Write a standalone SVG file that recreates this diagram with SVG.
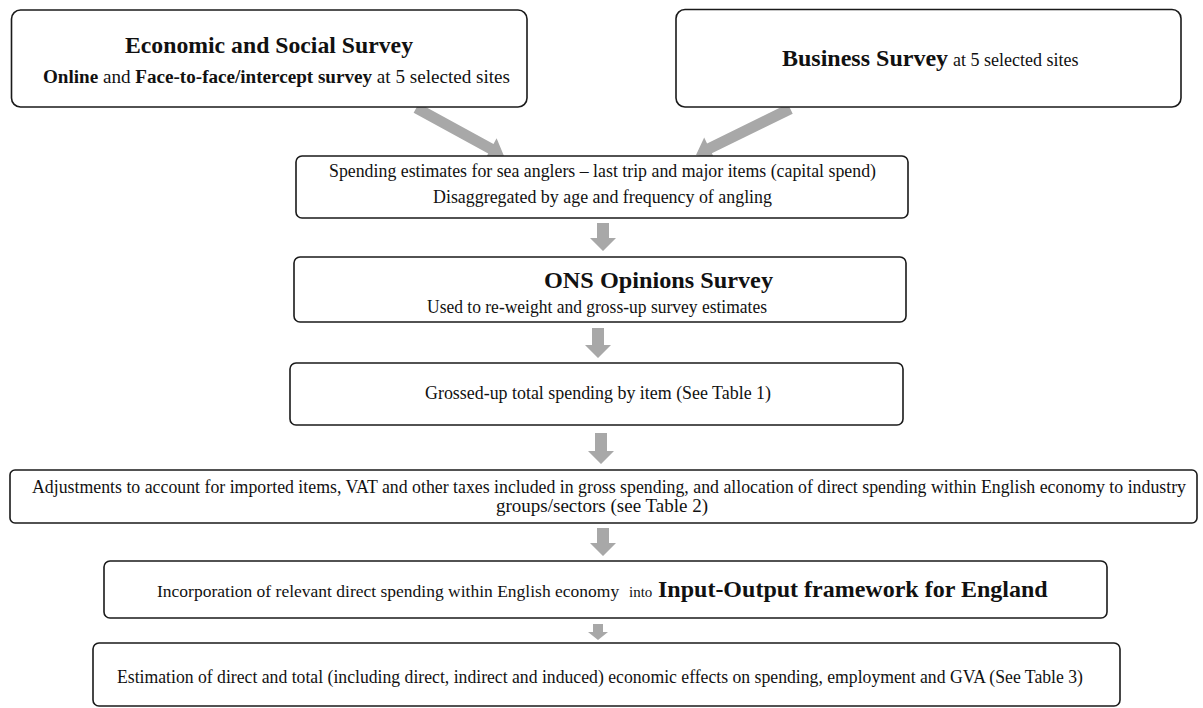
<svg xmlns="http://www.w3.org/2000/svg" width="1203" height="708" viewBox="0 0 1203 708">
<style>
.box{fill:#fff;stroke:#1a1a1a;stroke-width:1.6}
.arr{fill:#a8a8a8}
text{font-family:"Liberation Serif","Times New Roman",serif;fill:#111;font-size:18px}
.b{font-weight:bold}
.t{font-weight:bold;font-size:24px}
</style>
<rect width="1203" height="708" fill="#fff"/>
<g id="connectors">
<polygon class="arr" transform="translate(504,156) rotate(28.7)" points="-100,-5.5 -15,-5.5 -15,-12 0,0 -15,12 -15,5.5 -100,5.5"/>
<polygon class="arr" transform="translate(696,155) rotate(153.9)" points="-105,-5.5 -15,-5.5 -15,-12 0,0 -15,12 -15,5.5 -105,5.5"/>
<polygon class="arr" points="597,223 609,223 609,238 616,238 603,251 590,238 597,238"/>
<polygon class="arr" points="592,328 604,328 604,345 611,345 598,358 585,345 592,345"/>
<polygon class="arr" points="595,433 607,433 607,451 614,451 601,464 588,451 595,451"/>
<polygon class="arr" points="597,528 609,528 609,543 616,543 603,556 590,543 597,543"/>
<polygon class="arr" points="593,624 603,624 603,632 608,632 598,640 588,632 593,632"/>
</g>
<g id="economic-social-survey">
<rect class="box" x="11.5" y="10" width="515.5" height="97" rx="9"/>
<text class="t" x="125" y="53" textLength="288" lengthAdjust="spacingAndGlyphs">Economic and Social Survey</text>
<text x="43" y="83" textLength="467" lengthAdjust="spacingAndGlyphs"><tspan class="b">Online</tspan> and <tspan class="b">Face-to-face/intercept survey</tspan> at 5 selected sites</text>
</g>
<g id="business-survey">
<rect class="box" x="676" y="9.5" width="505" height="97.5" rx="9"/>
<text y="66"><tspan class="t" x="782">Business Survey</tspan><tspan x="953">at 5 selected sites</tspan></text>
</g>
<g id="spending-estimates">
<rect class="box" x="296" y="156" width="612" height="62" rx="6"/>
<text x="329" y="177" textLength="547" lengthAdjust="spacingAndGlyphs">Spending  estimates for sea anglers – last trip and major items (capital spend)</text>
<text x="433" y="203" textLength="339" lengthAdjust="spacingAndGlyphs">Disaggregated by age and frequency of angling</text>
</g>
<g id="ons-opinions-survey">
<rect class="box" x="294" y="257" width="612" height="65" rx="6"/>
<text class="t" x="544" y="288" textLength="229" lengthAdjust="spacingAndGlyphs">ONS Opinions Survey</text>
<text x="427" y="313" textLength="340" lengthAdjust="spacingAndGlyphs">Used to re-weight and gross-up survey estimates</text>
</g>
<g id="grossed-up">
<rect class="box" x="290" y="363" width="613" height="62" rx="6"/>
<text x="425" y="399" textLength="346" lengthAdjust="spacingAndGlyphs">Grossed-up total spending by item (See Table 1)</text>
</g>
<g id="adjustments">
<rect class="box" x="10" y="470" width="1187" height="53" rx="5"/>
<text x="32" y="493" textLength="1154" lengthAdjust="spacingAndGlyphs">Adjustments to account for imported items, VAT and other taxes included in gross spending, and allocation of direct spending within English economy to industry</text>
<text x="496" y="512" textLength="212" lengthAdjust="spacingAndGlyphs">groups/sectors (see Table 2)</text>
</g>
<g id="input-output">
<rect class="box" x="104" y="561" width="1003" height="57" rx="6"/>
<text y="597"><tspan x="157" style="font-size:17.5px">Incorporation of relevant direct spending within English economy</tspan><tspan x="629" style="font-size:15px">into</tspan><tspan class="t" x="658">Input-Output framework for England</tspan></text>
</g>
<g id="estimation">
<rect class="box" x="93" y="643" width="1027" height="63" rx="6"/>
<text x="117" y="683" textLength="966" lengthAdjust="spacingAndGlyphs">Estimation of direct and total (including direct, indirect and induced) economic effects on spending, employment and GVA (See Table 3)</text>
</g>
</svg>
